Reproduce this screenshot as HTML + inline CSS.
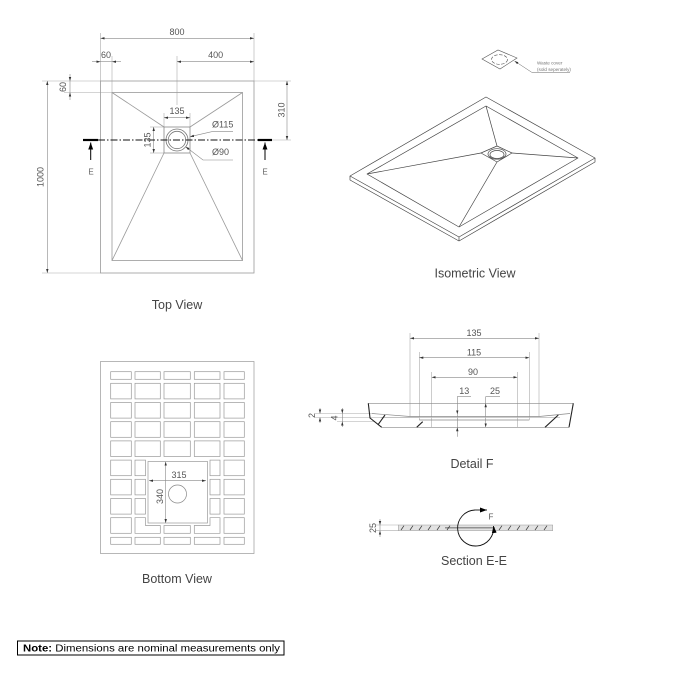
<!DOCTYPE html>
<html><head><meta charset="utf-8"><style>
html,body{margin:0;padding:0;background:#fff;}
svg{display:block;}
text{font-family:"Liberation Sans",sans-serif;}
</style></head><body>
<svg width="675" height="675" viewBox="0 0 675 675" xmlns="http://www.w3.org/2000/svg">
<defs>
<marker id="a" viewBox="0 0 10 10" refX="10" refY="5" markerWidth="4" markerHeight="4" orient="auto-start-reverse" markerUnits="userSpaceOnUse"><path d="M0,2 L10,5 L0,8z" fill="#333"/></marker>
<marker id="b" viewBox="0 0 10 10" refX="10" refY="5" markerWidth="7" markerHeight="7" orient="auto-start-reverse" markerUnits="userSpaceOnUse"><path d="M0,1.5 L10,5 L0,8.5z" fill="#000"/></marker>
</defs>
<rect width="675" height="675" fill="#fff"/>

<!-- ================= TOP VIEW ================= -->
<g stroke="#aaa" stroke-width="0.6" fill="none">
  <line x1="100.5" y1="33" x2="100.5" y2="81"/>
  <line x1="254" y1="33" x2="254" y2="81"/>
  <line x1="112" y1="56" x2="112" y2="92.5"/>
  <line x1="177" y1="56" x2="177" y2="105"/>
  <line x1="42" y1="81" x2="100.5" y2="81"/>
  <line x1="64" y1="92.5" x2="112" y2="92.5"/>
  <line x1="42" y1="273" x2="100.5" y2="273"/>
  <line x1="254" y1="81" x2="291" y2="81"/>
  <line x1="272" y1="140" x2="291" y2="140"/>
  <line x1="164" y1="113" x2="164" y2="127"/>
  <line x1="190" y1="113" x2="190" y2="127"/>
  <line x1="150" y1="127" x2="164" y2="127"/>
  <line x1="150" y1="153" x2="164" y2="153"/>
</g>
<g stroke="#888" stroke-width="0.6" fill="none">
  <line x1="100.5" y1="38.3" x2="254" y2="38.3" marker-start="url(#a)" marker-end="url(#a)"/>
  <line x1="92" y1="61.7" x2="100.5" y2="61.7" marker-end="url(#a)"/>
  <line x1="100.5" y1="61.7" x2="112" y2="61.7"/>
  <line x1="121" y1="61.7" x2="112" y2="61.7" marker-end="url(#a)"/>
  <line x1="177" y1="61.7" x2="254" y2="61.7" marker-start="url(#a)" marker-end="url(#a)"/>
  <line x1="70" y1="74" x2="70" y2="81" marker-end="url(#a)"/>
  <line x1="70" y1="81" x2="70" y2="92.5"/>
  <line x1="70" y1="100" x2="70" y2="92.5" marker-end="url(#a)"/>
  <line x1="47.3" y1="81" x2="47.3" y2="273" marker-start="url(#a)" marker-end="url(#a)"/>
  <line x1="287" y1="81" x2="287" y2="140" marker-start="url(#a)" marker-end="url(#a)"/>
  <line x1="164" y1="117.7" x2="190" y2="117.7" marker-start="url(#a)" marker-end="url(#a)"/>
  <line x1="153.7" y1="127" x2="153.7" y2="153" marker-start="url(#a)" marker-end="url(#a)"/>
  <polyline points="190,136.7 211.7,131.7 233,131.7" marker-start="url(#a)"/>
  <polyline points="185.7,146.7 203,160 233,160" marker-start="url(#a)"/>
</g>
<g stroke="#999" stroke-width="0.8" fill="none">
  <rect x="100.5" y="81" width="153.5" height="192"/>
  <rect x="112" y="92.5" width="130.5" height="168"/>
  <line x1="112" y1="92.5" x2="164" y2="127"/>
  <line x1="242.5" y1="92.5" x2="190" y2="127"/>
  <line x1="164" y1="153" x2="112" y2="260.5"/>
  <line x1="190" y1="153" x2="242.5" y2="260.5"/>
  <rect x="164" y="127" width="26" height="26" stroke="#888"/>
  <circle cx="177" cy="140" r="11" stroke="#777"/>
  <circle cx="177" cy="140" r="8.7" stroke="#777"/>
</g>
<line x1="98" y1="140" x2="258" y2="140" stroke="#111" stroke-width="1" stroke-dasharray="7 2 1.5 2"/>
<line x1="83" y1="140" x2="98" y2="140" stroke="#000" stroke-width="2.2"/>
<line x1="258" y1="140" x2="272" y2="140" stroke="#000" stroke-width="2.2"/>
<line x1="90.7" y1="160" x2="90.7" y2="142.5" stroke="#000" stroke-width="1" marker-end="url(#b)"/>
<line x1="265" y1="160" x2="265" y2="142.5" stroke="#000" stroke-width="1" marker-end="url(#b)"/>
<g fill="#555" font-size="9" text-anchor="middle">
  <text x="177" y="35">800</text>
  <text x="106" y="58">60</text>
  <text x="215.7" y="58">400</text>
  <text x="177" y="114">135</text>
  <text x="212" y="127.5" text-anchor="start">Ø115</text>
  <text x="212" y="155" text-anchor="start">Ø90</text>
  <text transform="translate(66,87) rotate(-90)">60</text>
  <text transform="translate(43.5,177) rotate(-90)">1000</text>
  <text transform="translate(284.5,110) rotate(-90)">310</text>
  <text transform="translate(150.5,140) rotate(-90)">135</text>
  <text x="91" y="174.5" font-size="8" fill="#666">E</text>
  <text x="265" y="174.5" font-size="8" fill="#666">E</text>
</g>
<text x="177" y="309" font-size="12.5" fill="#444" text-anchor="middle">Top View</text>

<!-- ================= ISOMETRIC VIEW ================= -->
<g stroke="#444" stroke-width="0.7" fill="none" stroke-linejoin="round">
  <polygon points="350,176 486,97 595,158 459,237"/>
  <polyline points="350,176 350,180 459,241 595,162 595,158"/>
  <line x1="459" y1="237" x2="459" y2="241"/>
  <polygon points="367,174 486,106 578,158 459,227"/>
  <line x1="486" y1="106" x2="497" y2="146"/>
  <line x1="367" y1="174" x2="481" y2="153"/>
  <line x1="578" y1="158" x2="512" y2="153"/>
  <line x1="459" y1="227" x2="497" y2="162"/>
  <polygon points="481,153 497,146 512,153 497,162"/>
  <ellipse cx="497" cy="154" rx="9" ry="5.3"/>
  <ellipse cx="497" cy="154.5" rx="7" ry="4"/>
  <path d="M490,155.5 A7,3.5 0 0,0 504,155.5" stroke="#777"/>
</g>
<g stroke="#555" stroke-width="0.6" fill="none">
  <polygon points="482,59 498,50 517,58 500,69"/>
  <ellipse cx="499.5" cy="59.5" rx="8" ry="4.8" stroke-dasharray="3.5 1.5"/>
  <polyline points="514.5,61 531.7,72.3 570,72.3" stroke="#666" stroke-width="0.5" marker-start="url(#a)"/>
</g>
<g fill="#777" font-size="4.6">
  <text x="537" y="64.5">Waste cover</text>
  <text x="537" y="70.8">(sold seperately)</text>
</g>
<text x="475" y="277.5" font-size="12.5" fill="#444" text-anchor="middle">Isometric View</text>

<!-- ================= BOTTOM VIEW ================= -->
<g stroke="#999" stroke-width="0.7" fill="none">
  <rect x="100.5" y="361.5" width="153.5" height="192"/>
  <!-- row 1 -->
  <rect x="110.7" y="371.7" width="20.6" height="7.6"/>
  <rect x="135" y="371.7" width="25.3" height="7.6"/>
  <rect x="164" y="371.7" width="26.3" height="7.6"/>
  <rect x="194.3" y="371.7" width="25.7" height="7.6"/>
  <rect x="224" y="371.7" width="20.3" height="7.6"/>
  <!-- rows 2-5 full -->
  <rect x="110.7" y="383.3" width="20.6" height="15.6"/>
  <rect x="135" y="383.3" width="25.3" height="15.6"/>
  <rect x="164" y="383.3" width="26.3" height="15.6"/>
  <rect x="194.3" y="383.3" width="25.7" height="15.6"/>
  <rect x="224" y="383.3" width="20.3" height="15.6"/>
  <rect x="110.7" y="402.5" width="20.6" height="15.6"/>
  <rect x="135" y="402.5" width="25.3" height="15.6"/>
  <rect x="164" y="402.5" width="26.3" height="15.6"/>
  <rect x="194.3" y="402.5" width="25.7" height="15.6"/>
  <rect x="224" y="402.5" width="20.3" height="15.6"/>
  <rect x="110.7" y="421.7" width="20.6" height="15.6"/>
  <rect x="135" y="421.7" width="25.3" height="15.6"/>
  <rect x="164" y="421.7" width="26.3" height="15.6"/>
  <rect x="194.3" y="421.7" width="25.7" height="15.6"/>
  <rect x="224" y="421.7" width="20.3" height="15.6"/>
  <rect x="110.7" y="440.9" width="20.6" height="15.6"/>
  <rect x="135" y="440.9" width="25.3" height="15.6"/>
  <rect x="164" y="440.9" width="26.3" height="15.6"/>
  <rect x="194.3" y="440.9" width="25.7" height="15.6"/>
  <rect x="224" y="440.9" width="20.3" height="15.6"/>
  <!-- rows 6-8 -->
  <rect x="110.7" y="460.1" width="20.6" height="15.6"/>
  <rect x="135" y="460.1" width="10.5" height="15.6"/>
  <rect x="210" y="460.1" width="10" height="15.6"/>
  <rect x="224" y="460.1" width="20.3" height="15.6"/>
  <rect x="110.7" y="479.3" width="20.6" height="15.6"/>
  <rect x="135" y="479.3" width="10.5" height="15.6"/>
  <rect x="210" y="479.3" width="10" height="15.6"/>
  <rect x="224" y="479.3" width="20.3" height="15.6"/>
  <rect x="110.7" y="498.5" width="20.6" height="15.6"/>
  <rect x="135" y="498.5" width="10.5" height="15.6"/>
  <rect x="210" y="498.5" width="10" height="15.6"/>
  <rect x="224" y="498.5" width="20.3" height="15.6"/>
  <!-- row 9 -->
  <rect x="110.7" y="517.7" width="20.6" height="15.6"/>
  <polygon points="135,517.7 145.5,517.7 145.5,525.5 160.3,525.5 160.3,533.3 135,533.3"/>
  <rect x="164" y="525.5" width="26.3" height="7.8"/>
  <polygon points="220,517.7 210,517.7 210,525.5 194.3,525.5 194.3,533.3 220,533.3"/>
  <rect x="224" y="517.7" width="20.3" height="15.6"/>
  <!-- row 10 -->
  <rect x="110.7" y="537.3" width="20.6" height="7"/>
  <rect x="135" y="537.3" width="25.3" height="7"/>
  <rect x="164" y="537.3" width="26.3" height="7"/>
  <rect x="194.3" y="537.3" width="25.7" height="7"/>
  <rect x="224" y="537.3" width="20.3" height="7"/>
  <!-- hollow -->
  <rect x="148" y="461.5" width="59.5" height="61.5"/>
  <circle cx="177.5" cy="494" r="9" stroke="#888"/>
</g>
<g stroke="#888" stroke-width="0.6">
  <line x1="149" y1="480.7" x2="206" y2="480.7" marker-start="url(#a)" marker-end="url(#a)"/>
  <line x1="165.7" y1="461.7" x2="165.7" y2="523" marker-start="url(#a)" marker-end="url(#a)"/>
</g>
<g fill="#555" font-size="9" text-anchor="middle">
  <text x="179" y="478">315</text>
  <text transform="translate(163,496.5) rotate(-90)">340</text>
</g>
<text x="177" y="583" font-size="12.5" fill="#444" text-anchor="middle">Bottom View</text>

<!-- ================= DETAIL F ================= -->
<g stroke="#aaa" stroke-width="0.6" fill="none">
  <line x1="410" y1="333" x2="410" y2="416.5"/>
  <line x1="539" y1="333" x2="539" y2="416.5"/>
  <line x1="419.3" y1="352" x2="419.3" y2="420"/>
  <line x1="529.3" y1="352" x2="529.3" y2="420"/>
  <line x1="431.7" y1="372" x2="431.7" y2="427.3"/>
  <line x1="517.3" y1="372" x2="517.3" y2="427.3"/>
  <line x1="315" y1="413.5" x2="372" y2="413.5"/>
  <line x1="315" y1="417.5" x2="419.3" y2="417.5"/>
  <line x1="337" y1="421.5" x2="375" y2="421.5"/>
</g>
<g stroke="#888" stroke-width="0.6" fill="none">
  <line x1="410" y1="338.3" x2="539" y2="338.3" marker-start="url(#a)" marker-end="url(#a)"/>
  <line x1="419.3" y1="357.7" x2="529.3" y2="357.7" marker-start="url(#a)" marker-end="url(#a)"/>
  <line x1="431.7" y1="377.3" x2="517.3" y2="377.3" marker-start="url(#a)" marker-end="url(#a)"/>
  <line x1="320" y1="408" x2="320" y2="413.5" marker-end="url(#a)"/>
  <line x1="320" y1="423" x2="320" y2="417.5" marker-end="url(#a)"/>
  <line x1="342.3" y1="408" x2="342.3" y2="413.5" marker-end="url(#a)"/>
  <line x1="342.3" y1="413.5" x2="342.3" y2="421.5"/>
  <line x1="342.3" y1="427" x2="342.3" y2="421.5" marker-end="url(#a)"/>
  <polyline points="471,396.7 457.3,396.7 457.3,414.3" marker-end="url(#a)"/>
  <line x1="457.3" y1="436.7" x2="457.3" y2="427.3" marker-end="url(#a)"/>
  <line x1="457.3" y1="414.3" x2="457.3" y2="427.3"/>
  <polyline points="500,396.7 485.7,396.7 485.7,403.3"/>
  <line x1="485.7" y1="403.3" x2="485.7" y2="427.3" marker-start="url(#a)" marker-end="url(#a)"/>
</g>
<g stroke="#888" stroke-width="0.7" fill="none">
  <line x1="368.3" y1="403.3" x2="573.3" y2="403.3"/>
  <line x1="381.7" y1="427.3" x2="569" y2="427.3"/>
  <polyline points="372,413.5 410,416.5 539,416.5 570,413.5"/>
  <line x1="419.3" y1="420" x2="529.3" y2="420"/>
  <line x1="381" y1="417.5" x2="560" y2="417.5" stroke="#bbb"/>
</g>
<g stroke="#222" stroke-width="1.1" fill="none">
  <polyline points="368.3,403.3 370,418 381.7,427.3"/>
  <line x1="573.3" y1="403.3" x2="569" y2="427.3"/>
  <line x1="378.3" y1="424.3" x2="385" y2="415"/>
  <line x1="416.7" y1="427.3" x2="422.7" y2="421.7"/>
  <line x1="545" y1="427.3" x2="558.3" y2="415"/>
</g>
<g fill="#555" font-size="9" text-anchor="middle">
  <text x="474" y="336">135</text>
  <text x="474" y="355.5">115</text>
  <text x="473" y="375">90</text>
  <text x="464.3" y="394">13</text>
  <text x="495" y="394">25</text>
  <text transform="translate(315,415.5) rotate(-90)">2</text>
  <text transform="translate(337.5,418) rotate(-90)">4</text>
</g>
<text x="472" y="468" font-size="12.5" fill="#444" text-anchor="middle">Detail F</text>

<!-- ================= SECTION E-E ================= -->
<g stroke="#aaa" stroke-width="0.6" fill="none">
  <line x1="376" y1="525" x2="398.3" y2="525"/>
  <line x1="376" y1="530.7" x2="398.3" y2="530.7"/>
</g>
<g stroke="#888" stroke-width="0.6">
  <line x1="380" y1="519" x2="380" y2="525" marker-end="url(#a)"/>
  <line x1="380" y1="537" x2="380" y2="530.7" marker-end="url(#a)"/>
  <line x1="380" y1="525" x2="380" y2="530.7"/>
</g>
<rect x="398.3" y="525" width="154.4" height="5.7" fill="#e2e2e2" stroke="#999" stroke-width="0.5"/>
<line x1="445" y1="527.8" x2="495" y2="527.8" stroke="#777" stroke-width="1.2"/>
<g stroke="#333" stroke-width="0.7">
  <line x1="401" y1="530" x2="404" y2="525.7"/>
  <line x1="410" y1="530" x2="413" y2="525.7"/>
  <line x1="419" y1="530" x2="422" y2="525.7"/>
  <line x1="428" y1="530" x2="431" y2="525.7"/>
  <line x1="437" y1="530" x2="440" y2="525.7"/>
  <line x1="447" y1="530" x2="450" y2="525.7"/>
  <line x1="499" y1="530" x2="502" y2="525.7"/>
  <line x1="508" y1="530" x2="511" y2="525.7"/>
  <line x1="517" y1="530" x2="520" y2="525.7"/>
  <line x1="526" y1="530" x2="529" y2="525.7"/>
  <line x1="535" y1="530" x2="538" y2="525.7"/>
  <line x1="544" y1="530" x2="547" y2="525.7"/>
</g>
<path d="M475,510 A18,18 0 1,0 493.5,526" fill="none" stroke="#111" stroke-width="0.9" marker-end="url(#b)"/>
<line x1="475" y1="510" x2="487" y2="510" stroke="#111" stroke-width="0.9" marker-end="url(#b)"/>
<text x="491" y="519.5" font-size="8" fill="#555" text-anchor="middle">F</text>
<g fill="#555" font-size="9" text-anchor="middle">
  <text transform="translate(376,528) rotate(-90)">25</text>
</g>
<text x="474" y="565" font-size="12.5" fill="#444" text-anchor="middle">Section E-E</text>

<!-- ================= NOTE ================= -->
<rect x="17.5" y="641" width="266.5" height="14" fill="none" stroke="#000" stroke-width="1"/>
<text x="23" y="651.5" font-size="10" fill="#000" textLength="257" lengthAdjust="spacingAndGlyphs"><tspan font-weight="bold">Note:</tspan> Dimensions are nominal measurements only</text>
</svg>
</body></html>
